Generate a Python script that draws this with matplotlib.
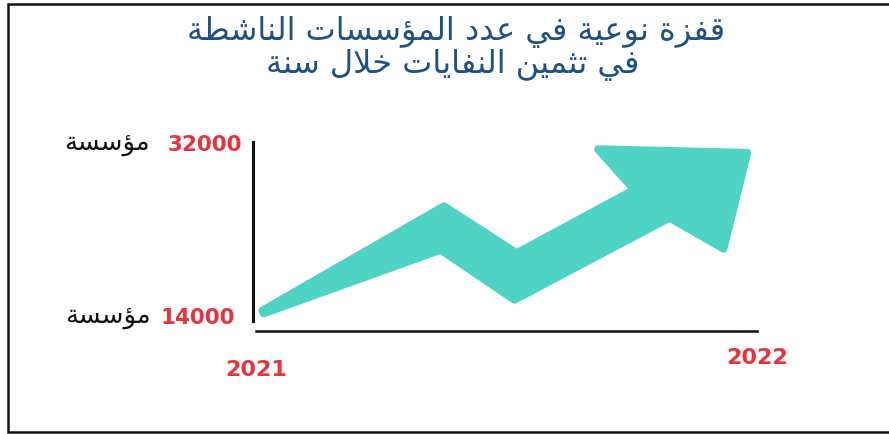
import numpy as np
from matplotlib import pyplot as plt
from matplotlib.lines import Line2D
from matplotlib.patches import Polygon

# chart content
title_lines = ['قفزة نوعية في عدد المؤسسات الناشطة', 'في تثمين النفايات خلال سنة']
years = [2021, 2022]
counts = [14000, 32000]
unit = 'مؤسسة'
# zigzag path of the growth arrow (year, count), last point is the head base
arrow_years = [2021.014, 2021.372, 2021.518, 2021.808]
arrow_counts = [14520, 23260, 18214, 26278]

TEAL = '#4fd3c4'
RED = '#e8323c'
NAVY = '#1f5283'

# arabic shaping (matplotlib has no text shaping of its own)
two_form = {0x622: 0xFE81, 0x623: 0xFE83, 0x624: 0xFE85, 0x625: 0xFE87, 0x627: 0xFE8D,
	0x629: 0xFE93, 0x62F: 0xFEA9, 0x630: 0xFEAB, 0x631: 0xFEAD, 0x632: 0xFEAF,
	0x648: 0xFEED, 0x649: 0xFEEF}
four_form = {0x626: 0xFE89, 0x628: 0xFE8F, 0x62A: 0xFE95, 0x62B: 0xFE99, 0x62C: 0xFE9D,
	0x62D: 0xFEA1, 0x62E: 0xFEA5, 0x633: 0xFEB1, 0x634: 0xFEB5, 0x635: 0xFEB9,
	0x636: 0xFEBD, 0x637: 0xFEC1, 0x638: 0xFEC5, 0x639: 0xFEC9, 0x63A: 0xFECD,
	0x641: 0xFED1, 0x642: 0xFED5, 0x643: 0xFED9, 0x644: 0xFEDD, 0x645: 0xFEE1,
	0x646: 0xFEE5, 0x647: 0xFEE9, 0x64A: 0xFEF1}
lam_alef = {0x622: 0xFEF5, 0x623: 0xFEF7, 0x625: 0xFEF9, 0x627: 0xFEFB}

def joins_next(c):
	return c is not None and ord(c) in four_form

def is_letter(c):
	return c is not None and (ord(c) in four_form or ord(c) in two_form)

def shape(text):
	out = []
	i = 0
	chars = list(text)
	while i < len(chars):
		c = chars[i]
		prev = chars[i - 1] if i > 0 else None
		nxt = chars[i + 1] if i + 1 < len(chars) else None
		joined_before = joins_next(prev)
		if ord(c) == 0x644 and nxt is not None and ord(nxt) in lam_alef:
			out.append(chr(lam_alef[ord(nxt)] + (1 if joined_before else 0)))
			i += 2
			continue
		if ord(c) in four_form:
			base = four_form[ord(c)]
			joined_after = is_letter(nxt)
			if joined_before and joined_after:
				out.append(chr(base + 3))
			elif joined_after:
				out.append(chr(base + 2))
			elif joined_before:
				out.append(chr(base + 1))
			else:
				out.append(chr(base))
		elif ord(c) in two_form:
			out.append(chr(two_form[ord(c)] + (1 if joined_before else 0)))
		else:
			out.append(c)
		i += 1
	return ''.join(out)[::-1]

W, H = 889, 435
fig = plt.figure(figsize=(W / 100, H / 100), dpi=100)
fig.patch.set_facecolor('white')

# card border (top, left, bottom), open on the right
fig.add_artist(Line2D([1, 8 / W, 8 / W, 1], [1 - 5 / H, 1 - 5 / H, 2 / H, 2 / H], color='#111111',
	lw=1.8, solid_joinstyle='miter', transform=fig.transFigure))

# title
fig.text(456 / W, 1 - 32 / H, shape(title_lines[0]), ha='center', va='center', fontsize=23, color=NAVY)
fig.text(453 / W, 1 - 65 / H, shape(title_lines[1]), ha='center', va='center', fontsize=23, color=NAVY)

ax = fig.add_axes([253 / W, 103 / H, (760 - 253) / W, (295 - 103) / H])
ax.set_xlim(2021 - 3 / 501, 2022 + 3 / 501)
per_px = (counts[1] - counts[0]) / 173
ax.set_ylim(counts[0] - 14 * per_px, counts[1] + 5 * per_px)
ax.patch.set_alpha(0)
for s in ['top', 'right']:
	ax.spines[s].set_visible(False)
ax.spines['left'].set_linewidth(2.2)
ax.spines['left'].set_bounds(counts[0] - 4 * per_px, counts[1] + 2 * per_px)
ax.spines['bottom'].set_linewidth(1.8)
ax.spines['bottom'].set_bounds(years[0], years[1])
ax.spines['left'].set_color('#111111')
ax.spines['bottom'].set_color('#111111')
ax.set_xticks([])
ax.set_yticks([])

# growth arrow, built in pixel space from the path
pts = ax.transData.transform(np.column_stack([arrow_years, arrow_counts]))
edge = 8
half_w = [1.5, 23 - edge / 2, 24 - edge / 2, 26.5 - edge / 2]
head_len = 102 - edge / 2
head_half = 84 - edge / 2
d = pts[-1] - pts[-2]
d = d / np.linalg.norm(d)
ang = np.deg2rad(113.5)
b = np.array([d[0] * np.cos(ang) - d[1] * np.sin(ang), d[0] * np.sin(ang) + d[1] * np.cos(ang)])
end = pts[-1] - 10 * d
body = np.vstack([pts[:-1], end])
normals = []
for k in range(len(body) - 1):
	t = body[k + 1] - body[k]
	t = t / np.linalg.norm(t)
	normals.append(np.array([-t[1], t[0]]))
upper = [body[0] + half_w[0] * normals[0]]
lower = [body[0] - half_w[0] * normals[0]]
for k in range(1, len(body) - 1):
	n = normals[k - 1] + normals[k]
	n = n / np.linalg.norm(n)
	off = half_w[k] / np.dot(n, normals[k - 1])
	upper.append(body[k] + off * n)
	lower.append(body[k] - off * n)
upper.append(end + half_w[-1] * b)
lower.append(end - half_w[-1] * b)
tip = pts[-1] + head_len * d
outline = upper + [pts[-1] + head_half * b, tip, pts[-1] - head_half * b] + lower[::-1]
outline = ax.transData.inverted().transform(np.array(outline))
ax.add_patch(Polygon(outline, closed=True, facecolor=TEAL, edgecolor=TEAL, lw=edge * 0.72,
	joinstyle='round', clip_on=False))

# count labels on the left
for v, off, gap in zip(counts, [-18, -11], [-84, -92]):
	ax.annotate(str(v), xy=(ax.get_xlim()[0], v), xytext=(off, 0), textcoords='offset pixels',
		ha='right', va='center', fontsize=15.5, fontweight='bold', color=RED, annotation_clip=False)
	ax.annotate(shape(unit), xy=(ax.get_xlim()[0], v), xytext=(off + gap, 1), textcoords='offset pixels',
		ha='right', va='center', fontsize=18.5, color='#111111', annotation_clip=False)

# year labels under the axis
for yr, drop in zip(years, [38, 26]):
	ax.annotate(str(yr), xy=(yr, ax.get_ylim()[0]), xytext=(0, -drop), textcoords='offset pixels',
		ha='center', va='center', fontsize=16, fontweight='bold', color=RED, annotation_clip=False)

plt.savefig('out.png', dpi=100)
